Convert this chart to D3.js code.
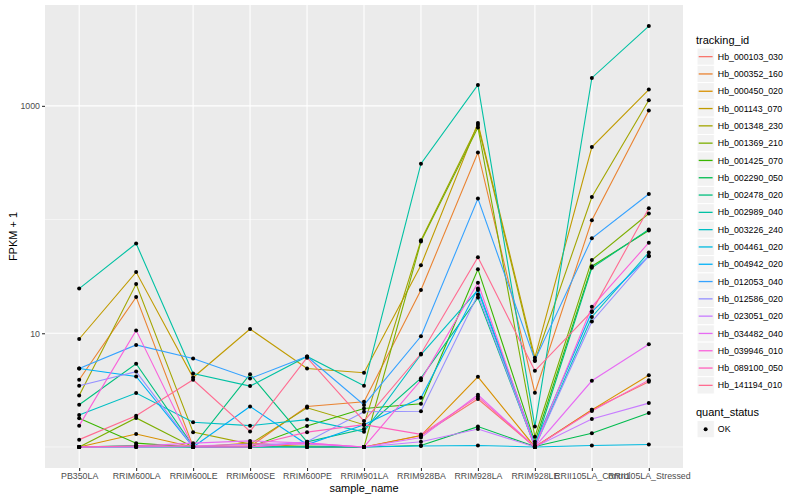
<!DOCTYPE html>
<html>
<head>
<meta charset="utf-8">
<script src="https://cdn.jsdelivr.net/npm/d3@7"></script>
<style>
  body { margin: 0; background: #fff; }
  text { font-family: "Liberation Sans", Arial, Helvetica, sans-serif; }
</style>
</head>
<body>
<div id="chart"></div>
<script>
// samples on the x axis
var samples = ["PB350LA", "RRIM600LA", "RRIM600LE", "RRIM600SE", "RRIM600PE", "RRIM901LA",
  "RRIM928BA", "RRIM928LA", "RRIM928LE", "RRII105LA_Control", "RRII105LA_Stressed"];

var trackingIds = ["Hb_000103_030", "Hb_000352_160", "Hb_000450_020", "Hb_001143_070", "Hb_001348_230",
  "Hb_001369_210", "Hb_001425_070", "Hb_002290_050", "Hb_002478_020", "Hb_002989_040",
  "Hb_003226_240", "Hb_004461_020", "Hb_004942_020", "Hb_012053_040", "Hb_012586_020",
  "Hb_023051_020", "Hb_034482_040", "Hb_039946_010", "Hb_089100_050", "Hb_141194_010"];

// FPKM + 1, one row per tracking id, one value per sample
var fpkm = [
  [1, 1, 1, 1.02, 1, 1, 1.26, 2.64, 1, 2.12, 3.74],
  [3.9, 20.8, 1.01, 1.01, 2.27, 2.5, 24, 389, 2.99, 98.6, 910],
  [1, 1.3, 1, 1.08, 1, 1, 1.26, 4.14, 1, 2.12, 4.28],
  [8.9, 34.5, 4.08, 10.9, 4.9, 4.5, 39.7, 705, 6.1, 434, 1390],
  [2.84, 27.1, 1.35, 1.06, 2.21, 1.57, 65.8, 677, 5.7, 158, 1122],
  [1, 1.8, 1, 1, 1.02, 1, 64, 645, 1.23, 44, 113],
  [1.79, 1.08, 1, 1, 1.53, 2.18, 2.4, 36.6, 1.11, 38.9, 80],
  [1, 1.03, 1, 1, 1, 1, 1.03, 1.51, 1.01, 1.32, 1.99],
  [2.35, 5.4, 1.02, 4.37, 1.11, 1.44, 4.03, 20.6, 1.01, 37.7, 81.7],
  [24.7, 61.6, 4.43, 3.43, 6.25, 3.45, 310, 1528, 1.51, 1761, 5035],
  [1.91, 2.98, 1.65, 1.54, 1.74, 1.36, 6.5, 24, 1, 13.9, 51.4],
  [1, 1, 1, 1, 1, 1, 1.02, 1.03, 1, 1.03, 1.05],
  [4.9, 4.17, 1, 2.27, 1.05, 1.57, 2.71, 24.7, 1.06, 15.4, 47.6],
  [4.9, 7.9, 6.0, 4.0, 6.25, 2.34, 9.4, 153, 5.8, 68.5, 168],
  [3.45, 4.6, 1, 1, 1.11, 2.04, 2.06, 21.9, 1, 12.7, 48],
  [1, 1, 1.02, 1.06, 1.06, 1, 1.11, 1.44, 1, 1.76, 2.43],
  [1, 1.02, 1.08, 1.13, 1.08, 1, 1.21, 2.88, 1, 3.82, 8.0],
  [1.54, 10.6, 1, 1, 1.08, 1, 3.87, 27.8, 1, 17.1, 62.6],
  [1, 1.02, 1.02, 1.02, 1.35, 1.57, 1.29, 2.76, 1, 2.07, 3.87],
  [1.16, 1.88, 3.9, 1.37, 6.1, 1.69, 6.6, 46.7, 4.67, 15.6, 126]
];

var quantStatus = ["OK"];
var yTicks = [10, 1000];
var yMinor = [1, 100];

// ggplot hue palette, 20 levels
var palette = ["#F8766D", "#EA8331", "#D89000", "#C09B00", "#A3A500", "#7CAE00", "#39B600", "#00BB4E",
  "#00BF7D", "#00C1A3", "#00BFC4", "#00BAE0", "#00B0F6", "#35A2FF", "#9590FF", "#C77CFF",
  "#E76BF3", "#FA62DB", "#FF62BC", "#FF6C91"];

var W = 800, H = 500;
var panel = { left: 45, right: 683, top: 5, bottom: 468 };

var svg = d3.select("#chart").append("svg")
  .attr("width", W).attr("height", H);

svg.append("rect").attr("width", W).attr("height", H).attr("fill", "#fff");

var x = d3.scalePoint().domain(samples).range([panel.left, panel.right]).padding(0.6);

// log scale with ggplot's 5% expansion in log space
var allVals = d3.merge(fpkm);
var lmin = Math.log10(d3.min(allVals)), lmax = Math.log10(d3.max(allVals));
var pad = (lmax - lmin) * 0.05;
var y = d3.scaleLog()
  .domain([Math.pow(10, lmin - pad), Math.pow(10, lmax + pad)])
  .range([panel.bottom, panel.top]);

var color = d3.scaleOrdinal().domain(trackingIds).range(palette);

// panel background + grid
svg.append("rect")
  .attr("x", panel.left).attr("y", panel.top)
  .attr("width", panel.right - panel.left).attr("height", panel.bottom - panel.top)
  .attr("fill", "#EBEBEB");

var grid = svg.append("g");
grid.selectAll(".minor").data(yMinor).enter().append("line")
  .attr("x1", panel.left).attr("x2", panel.right)
  .attr("y1", function(d) { return y(d); }).attr("y2", function(d) { return y(d); })
  .attr("stroke", "#fff").attr("stroke-width", 0.55);
grid.selectAll(".major").data(yTicks).enter().append("line")
  .attr("x1", panel.left).attr("x2", panel.right)
  .attr("y1", function(d) { return y(d); }).attr("y2", function(d) { return y(d); })
  .attr("stroke", "#fff").attr("stroke-width", 1.1);
grid.selectAll(".vx").data(samples).enter().append("line")
  .attr("x1", function(d) { return x(d); }).attr("x2", function(d) { return x(d); })
  .attr("y1", panel.top).attr("y2", panel.bottom)
  .attr("stroke", "#fff").attr("stroke-width", 1.1);

// lines
var line = d3.line()
  .x(function(d, i) { return x(samples[i]); })
  .y(function(d) { return y(d); });

svg.append("g").selectAll("path")
  .data(fpkm).enter().append("path")
  .attr("d", line)
  .attr("fill", "none")
  .attr("stroke", function(d, i) { return color(trackingIds[i]); })
  .attr("stroke-width", 1.1);

// points
var pts = [];
fpkm.forEach(function(row) {
  row.forEach(function(v, j) { pts.push({ s: samples[j], v: v }); });
});
svg.append("g").selectAll("circle")
  .data(pts).enter().append("circle")
  .attr("cx", function(d) { return x(d.s); })
  .attr("cy", function(d) { return y(d.v); })
  .attr("r", 2)
  .attr("fill", "#000");

// axes
var xAxis = svg.append("g")
  .attr("transform", "translate(0," + panel.bottom + ")")
  .call(d3.axisBottom(x).tickSizeOuter(0).tickSize(3).tickPadding(2));
var yAxis = svg.append("g")
  .attr("transform", "translate(" + panel.left + ",0)")
  .call(d3.axisLeft(y).tickValues(yTicks).tickFormat(d3.format("d")).tickSizeOuter(0).tickSize(3).tickPadding(2));

[xAxis, yAxis].forEach(function(a) {
  a.select(".domain").remove();
  a.selectAll(".tick line").attr("stroke", "#333333").attr("stroke-width", 1.1);
  a.selectAll(".tick text").attr("fill", "#4D4D4D").attr("font-size", "8.8px")
    .attr("font-family", "Liberation Sans, Arial, sans-serif");
});

svg.append("text")
  .attr("x", (panel.left + panel.right) / 2).attr("y", 492)
  .attr("text-anchor", "middle").attr("font-size", "11px").attr("fill", "#000")
  .text("sample_name");

svg.append("text")
  .attr("transform", "translate(17," + ((panel.top + panel.bottom) / 2) + ") rotate(-90)")
  .attr("text-anchor", "middle").attr("font-size", "11px").attr("fill", "#000")
  .text("FPKM + 1");

// legend: tracking_id
var lg = svg.append("g").attr("transform", "translate(697,0)");
var keyH = 17.3, key0 = 48;
lg.append("text").attr("x", -1).attr("y", 44).attr("font-size", "11px").text("tracking_id");

var keys = lg.selectAll(".key").data(trackingIds).enter().append("g")
  .attr("transform", function(d, i) { return "translate(0," + (key0 + i * keyH) + ")"; });
keys.append("rect").attr("width", keyH).attr("height", keyH)
  .attr("fill", "#F2F2F2").attr("stroke", "#fff").attr("stroke-width", 1);
keys.append("line")
  .attr("x1", 1.7).attr("x2", keyH - 1.7)
  .attr("y1", keyH / 2).attr("y2", keyH / 2)
  .attr("stroke", function(d) { return color(d); }).attr("stroke-width", 1.3);
keys.append("text")
  .attr("x", keyH + 3.5).attr("y", keyH / 2 + 3.1)
  .attr("font-size", "8.8px").text(function(d) { return d; });

// legend: quant_status
var lq = svg.append("g").attr("transform", "translate(697,0)");
lq.append("text").attr("x", -1).attr("y", 416).attr("font-size", "11px").text("quant_status");
var qk = lq.selectAll(".qk").data(quantStatus).enter().append("g")
  .attr("transform", function(d, i) { return "translate(0," + (420.5 + i * keyH) + ")"; });
qk.append("rect").attr("width", keyH).attr("height", keyH)
  .attr("fill", "#F2F2F2").attr("stroke", "#fff");
qk.append("circle").attr("cx", keyH / 2).attr("cy", keyH / 2).attr("r", 2).attr("fill", "#000");
qk.append("text").attr("x", keyH + 3.5).attr("y", keyH / 2 + 3.1)
  .attr("font-size", "8.8px").text(function(d) { return d; });
</script>
</body>
</html>
